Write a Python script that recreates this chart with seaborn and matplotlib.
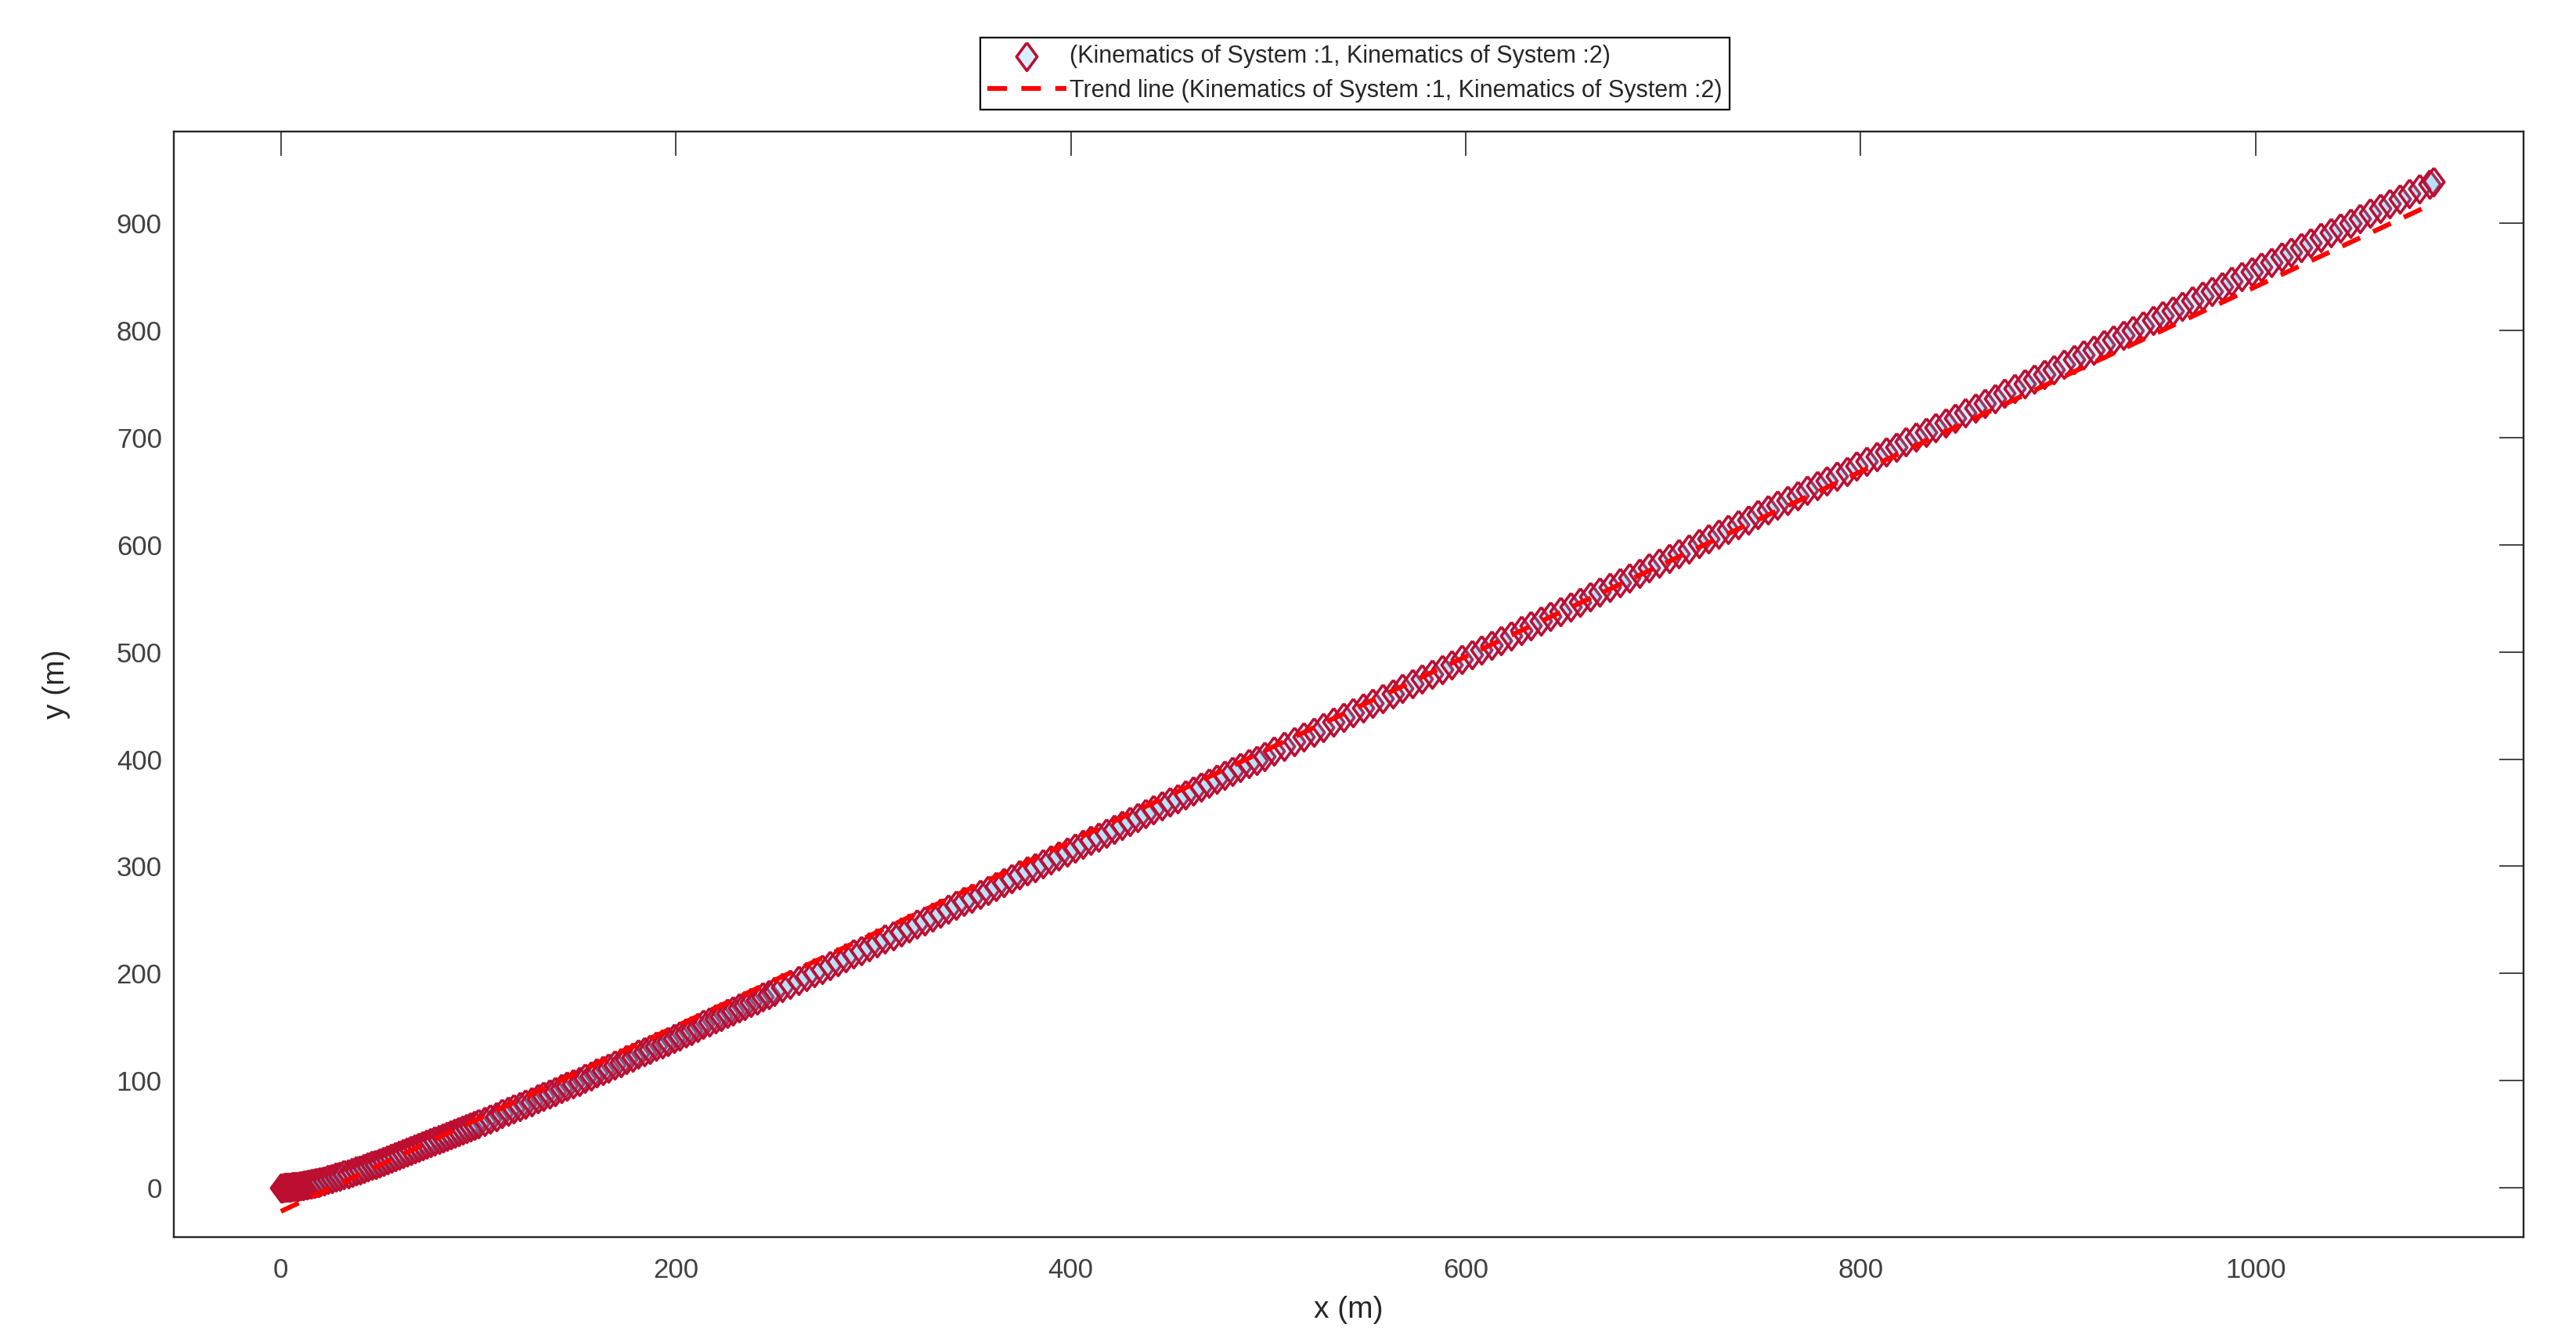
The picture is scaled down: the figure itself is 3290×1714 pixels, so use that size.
import matplotlib
matplotlib.use("Agg")
import matplotlib.pyplot as plt
import seaborn as sns

# Positions (m)
x_pos = [0, 1, 2, 3, 4, 5, 6, 7, 8, 9, 10, 11, 12, 13, 14, 15, 16, 17, 18, 19, 20,
         22, 24, 26, 28, 30, 32, 34, 36, 38, 40, 42, 44, 46, 48, 50, 52, 54, 56, 58, 60,
         62, 64, 66, 68, 70, 72, 74, 76, 78, 80, 82, 84, 86, 88, 90, 92, 94, 96, 98, 100,
         103, 106, 109, 112, 115, 118, 121, 124, 127, 130, 133, 136, 139, 142, 145, 148,
         151, 154, 157, 160, 163, 166, 169, 172, 175, 178, 181, 184, 187, 190, 193, 196, 199,
         202, 205, 208, 211, 214, 217, 220, 223, 226, 229, 232, 235, 238, 241, 244, 247, 250,
         254, 258, 262, 266, 270, 274, 278, 282, 286, 290, 294, 298, 302, 306, 310, 314,
         318, 322, 326, 330, 334, 338, 342, 346, 350, 354, 358, 362, 366, 370, 374, 378,
         382, 386, 390, 394, 398, 402, 406, 410, 414, 418, 422, 426, 430, 434, 438, 442,
         446, 450, 454, 458, 462, 466, 470, 474, 478, 482, 486, 490, 494, 498,
         503, 508, 513, 518, 523, 528, 533, 538, 543, 548, 553, 558, 563, 568, 573, 578,
         583, 588, 593, 598, 603, 608, 613, 618, 623, 628, 633, 638, 643, 648, 653, 658,
         663, 668, 673, 678, 683, 688, 693, 698,
         703, 708, 713, 718, 723, 728, 733, 738, 743, 748, 753, 758, 763, 768, 773, 778,
         783, 788, 793, 798, 803, 808, 813, 818, 823, 828, 833, 838, 843, 848, 853, 858,
         863, 868, 873, 878, 883, 888, 893, 898,
         903, 908, 913, 918, 923, 928, 933, 938, 943, 948, 953, 958, 963, 968, 973, 978,
         983, 988, 993, 998, 1003, 1008, 1013, 1018, 1023, 1028, 1033, 1038, 1043, 1048,
         1053, 1058, 1063, 1068, 1073, 1078, 1083, 1088, 1090]

y_pos = [0.0, 0.2, 0.4, 0.6, 0.8, 1.0, 1.2, 1.4, 1.6, 1.8, 2.0, 2.4, 2.7, 3.1, 3.4, 3.8, 4.1, 4.5, 4.8, 5.2, 5.5,
         6.6, 7.7, 8.8, 9.9, 11.0, 12.2, 13.4, 14.6, 15.8, 17.0, 18.3, 19.6, 20.9, 22.2, 23.5, 24.9, 26.3, 27.7, 29.1, 30.5,
         31.9, 33.4, 34.8, 36.3, 37.7, 39.2, 40.6, 42.1, 43.5, 45.0, 46.5, 48.0, 49.4, 50.9, 52.4, 53.9, 55.4, 56.9, 58.4, 59.9,
         62.2, 64.5, 66.8, 69.1, 71.5, 73.8, 76.1, 78.4, 80.7, 83.0, 85.3, 87.6, 90.0, 92.5, 94.9, 97.3,
         99.7, 102.2, 104.7, 107.2, 109.6, 112.1, 114.6, 117.1, 119.6, 122.1, 124.6, 127.1, 129.6, 132.0, 134.5, 137.0, 139.5,
         142.1, 144.7, 147.2, 149.8, 152.4, 155.0, 157.6, 160.1, 162.7, 165.3, 167.9, 170.5, 173.0, 175.6, 178.2, 180.8, 183.4,
         186.8, 190.3, 193.8, 197.3, 200.8, 204.2, 207.7, 211.2, 214.7, 218.2, 221.6, 225.1, 228.6, 232.1, 235.6, 239.0,
         242.5, 246.0, 249.5, 253.0, 256.4, 260.0, 263.6, 267.1, 270.7, 274.2, 277.8, 281.4, 284.9, 288.5, 292.1, 295.6,
         299.2, 302.7, 306.3, 309.9, 313.4, 317.0, 320.6, 324.1, 327.7, 331.3, 334.9, 338.5, 342.0, 345.6, 349.2, 352.8,
         356.4, 359.9, 363.5, 367.1, 370.7, 374.3, 377.8, 381.4, 385.0, 388.6, 392.2, 395.7, 399.3, 402.9,
         407.4, 411.9, 416.4, 420.9, 425.4, 429.9, 434.4, 438.9, 443.4, 447.9, 452.4, 456.9, 461.4, 465.9, 470.4, 474.9,
         479.4, 483.9, 488.4, 492.9, 497.4, 501.9, 506.4, 510.9, 515.4, 519.9, 524.4, 528.9, 533.4, 537.9, 542.4, 546.9,
         551.4, 555.9, 560.4, 564.9, 569.4, 573.9, 578.4, 582.9,
         587.4, 591.9, 596.5, 601.0, 605.5, 610.0, 614.6, 619.1, 623.6, 628.1, 632.7, 637.2, 641.7, 646.2, 650.8, 655.3,
         659.8, 664.3, 668.9, 673.4, 677.9, 682.4, 687.0, 691.5, 696.0, 700.5, 705.1, 709.6, 714.1, 718.6, 723.2, 727.7,
         732.2, 736.7, 741.3, 745.8, 750.3, 754.8, 759.4, 763.9,
         768.4, 773.0, 777.5, 782.1, 786.6, 791.2, 795.7, 800.3, 804.8, 809.4, 813.9, 818.5, 823.0, 827.6, 832.1, 836.7,
         841.2, 845.8, 850.3, 854.9, 859.4, 864.0, 868.5, 873.1, 877.6, 882.2, 886.7, 891.3, 895.8, 900.4,
         904.9, 909.5, 914.0, 918.6, 923.1, 927.7, 932.2, 936.8, 938.6]

# Trend line end points
trend_x = [0, 1090]
trend_y = [-22, 918.5]

x_ticks = [0, 200, 400, 600, 800, 1000]
y_ticks = [0, 100, 200, 300, 400, 500, 600, 700, 800, 900]

series_label = "(Kinematics of System :1, Kinematics of System :2)"
trend_label = "Trend line (Kinematics of System :1, Kinematics of System :2)"

sns.set_style("white")
plt.rcParams["font.family"] = ["Liberation Sans", "DejaVu Sans"]

fig = plt.figure(figsize=(16.45, 8.57), dpi=200)
ax = fig.add_axes([0.0675, 0.0782, 0.9122, 0.8238])

# diamond slightly narrower than tall
diamond = [(0, 1), (0.74, 0), (0, -1), (-0.74, 0), (0, 1)]

sns.scatterplot(x=x_pos, y=y_pos, marker=diamond, s=165, edgecolor="#BC0E31",
                linewidth=1.3, label=series_label, ax=ax, zorder=2)
pts = ax.collections[0]
pts.set_facecolor((0.30, 0.72, 0.95, 0.22))
pts.set_edgecolor("#BC0E31")

sns.lineplot(x=trend_x, y=trend_y, color="#FF0000", linewidth=2.2,
             label=trend_label, ax=ax, zorder=3)
ax.lines[-1].set_linestyle((0, (4.1, 3.0)))

ax.set_xlim(-54.2, 1135.8)
ax.set_ylim(-46, 985.7)
ax.set_xticks(x_ticks)
ax.set_yticks(y_ticks)

# MATLAB-like box with inward ticks on all sides
for sp in ax.spines.values():
    sp.set_visible(True)
    sp.set_linewidth(0.85)
    sp.set_color("#262626")
ax.tick_params(direction="in", length=11, width=0.6, top=True, right=True,
               color="#262626", labelcolor="#404040", labelsize=12.5)
ax.tick_params(axis="x", pad=9.5)
ax.tick_params(axis="y", pad=5.5)

ax.set_xlabel("x (m)", fontsize=14, color="#262626")
ax.set_ylabel("y (m)", fontsize=14, color="#262626")
ax.xaxis.set_label_coords(0.5, -0.053)
ax.yaxis.set_label_coords(-0.044, 0.5)

leg = ax.legend(loc="upper center", bbox_to_anchor=(0.526, 0.972),
                bbox_transform=fig.transFigure, fontsize=11, frameon=True,
                fancybox=False, edgecolor="black", framealpha=1,
                borderpad=0.3, labelspacing=0.45, handlelength=3.3,
                handletextpad=0.15, borderaxespad=0, scatterpoints=1)
leg.get_frame().set_linewidth(0.8)

fig.savefig("out.png", dpi=200)
